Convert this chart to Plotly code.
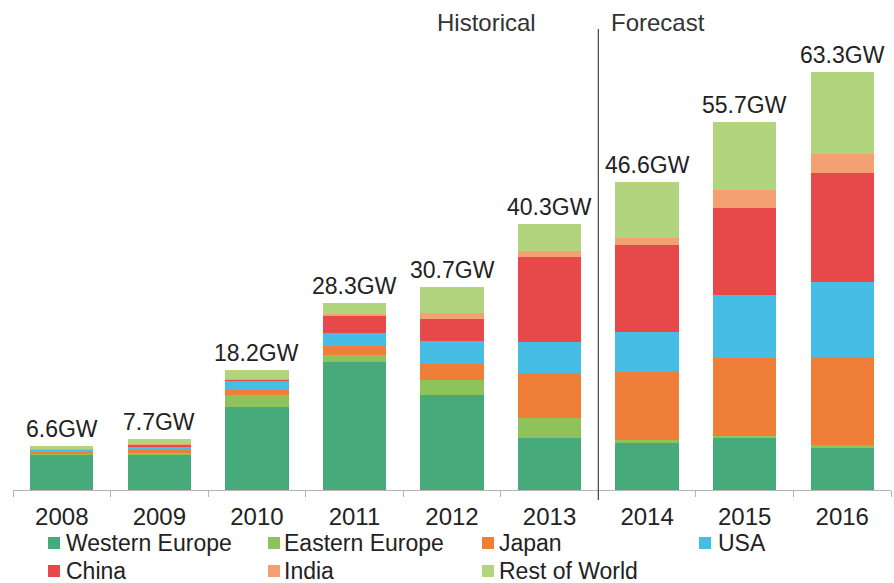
import plotly.graph_objects as go

years = ["2008", "2009", "2010", "2011", "2012", "2013", "2014", "2015", "2016"]
totals = [6.6, 7.7, 18.2, 28.3, 30.7, 40.3, 46.6, 55.7, 63.3]

western_europe = [5.3, 5.3, 12.6, 19.4, 14.4, 7.9, 7.1, 7.9, 6.5]
eastern_europe = [0.2, 0.3, 1.8, 1.1, 2.3, 3.0, 0.4, 0.3, 0.3]
japan = [0.3, 0.5, 0.7, 1.3, 2.3, 6.8, 10.3, 11.7, 13.3]
usa = [0.3, 0.5, 1.4, 2.0, 3.5, 4.7, 6.1, 9.6, 11.4]
china = [0.05, 0.3, 0.2, 2.6, 3.3, 12.8, 13.2, 13.2, 16.4]
india = [0.05, 0.1, 0.1, 0.3, 1.0, 1.0, 1.0, 2.7, 3.0]
rest_of_world = [0.4, 0.7, 1.4, 1.6, 3.9, 4.1, 8.5, 10.3, 12.4]

series_names = ["Western Europe", "Eastern Europe", "Japan", "USA",
                "China", "India", "Rest of World"]
series_values = [western_europe, eastern_europe, japan, usa,
                 china, india, rest_of_world]
series_colors = ["#46aa7a", "#8dc35a", "#ef7f38", "#45bde4",
                 "#e7484a", "#f3a172", "#b2d47f"]

FONT = "Liberation Sans, Arial, sans-serif"

W, H = 894, 583
ML, MR, MT, MB = 13, 3, 30, 93
PW, PH = W - ML - MR, H - MT - MB


def px_x(px):
    return (px - ML) / PW


def px_y(py):
    return (H - MB - py) / PH


fig = go.Figure()
for name, vals, color in zip(series_names, series_values, series_colors):
    fig.add_trace(go.Bar(
        x=years, y=vals, name=name, showlegend=False,
        marker=dict(color=color, line=dict(width=0)),
        hoverinfo="x+y+name",
    ))

stack_tops = [sum(v[i] for v in series_values) for i in range(len(years))]

# divider between the last historical and the first forecast year
split_pos = years.index("2013") + 0.5

annotations = []
shapes = []
for i, (top, tot) in enumerate(zip(stack_tops, totals)):
    annotations.append(dict(
        x=i, y=top, xref="x", yref="y",
        text=f"{tot:g}GW", showarrow=False,
        xanchor="center", yanchor="bottom", yshift=2,
        font=dict(family=FONT, size=23, color="#222222"),
    ))

annotations.append(dict(
    x=split_pos, y=px_y(22), xref="x", yref="paper", text="Historical",
    showarrow=False, xanchor="right", yanchor="middle", xshift=-60,
    font=dict(family=FONT, size=24, color="#333333"),
))
annotations.append(dict(
    x=split_pos, y=px_y(22), xref="x", yref="paper", text="Forecast",
    showarrow=False, xanchor="left", yanchor="middle", xshift=11,
    font=dict(family=FONT, size=24, color="#333333"),
))
shapes.append(dict(
    type="line", xref="x", yref="paper",
    x0=split_pos, x1=split_pos, y0=px_y(500), y1=px_y(29),
    line=dict(color="#444444", width=1.2),
))

# legend laid out in 4 columns, 2 rows (as in the reference)
legend_square_x = [48, 268, 482, 699]
legend_text_x = [64, 282, 497, 716]
legend_row_y = [543, 571]
for k, (name, color) in enumerate(zip(series_names, series_colors)):
    r, c = divmod(k, 4)
    sx, tx, cy = legend_square_x[c], legend_text_x[c], legend_row_y[r]
    shapes.append(dict(
        type="rect", xref="paper", yref="paper",
        x0=px_x(sx), x1=px_x(sx + 12), y0=px_y(cy + 6), y1=px_y(cy - 6),
        fillcolor=color, line=dict(width=0),
    ))
    annotations.append(dict(
        x=px_x(tx), y=px_y(cy), xref="paper", yref="paper",
        text=name, showarrow=False, xanchor="left", yanchor="middle",
        font=dict(family=FONT, size=23, color="#222222"),
    ))

fig.update_layout(
    barmode="stack",
    bargap=0.35,
    width=W, height=H,
    margin=dict(l=ML, r=MR, t=MT, b=MB, autoexpand=False),
    paper_bgcolor="white", plot_bgcolor="white",
    font=dict(family=FONT, size=23, color="#222222"),
    annotations=annotations,
    shapes=shapes,
    showlegend=False,
    xaxis=dict(
        type="category", range=[-0.5, 8.5],
        showline=True, linecolor="#b5b5b5", linewidth=1,
        ticks="outside", tickson="boundaries", ticklen=6, tickcolor="#b5b5b5",
        tickfont=dict(family=FONT, size=24, color="#222222"),
        ticklabelstandoff=5,
        showgrid=False, zeroline=False,
    ),
    yaxis=dict(
        range=[0, 69.6], visible=False, showgrid=False, zeroline=False,
    ),
)

fig.write_html("out.html")
